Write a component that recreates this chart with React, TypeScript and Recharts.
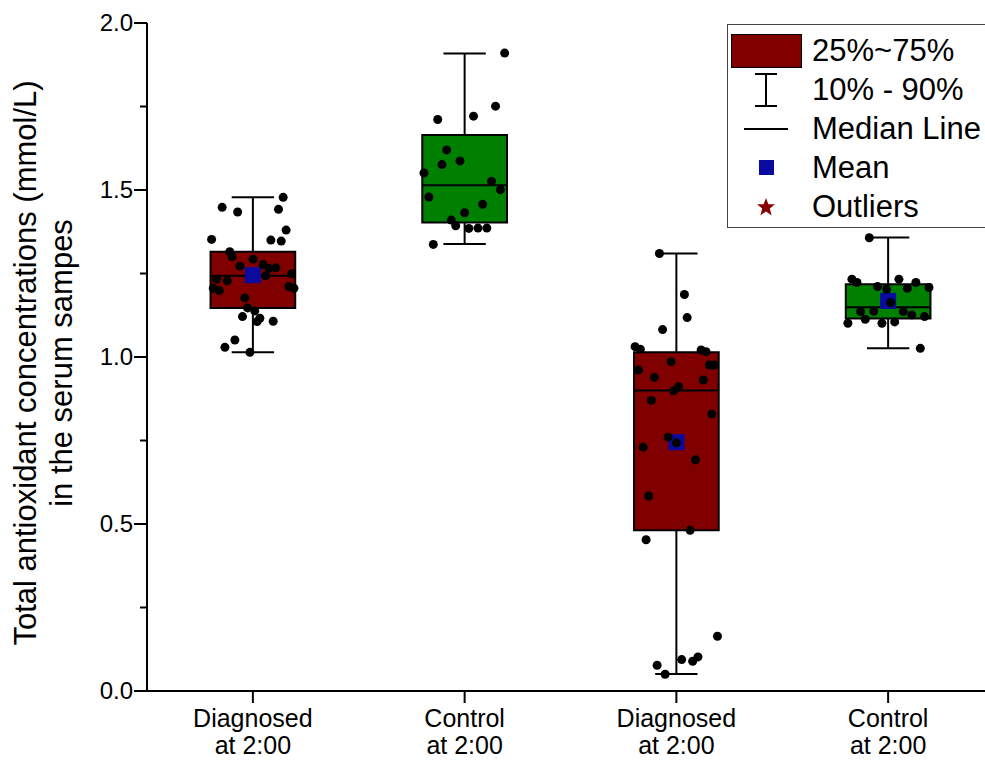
import React from "react"
import {
  ComposedChart,
  XAxis,
  YAxis,
  Scatter,
  ReferenceArea,
  ReferenceLine,
  Legend,
} from "recharts"

// category labels (two lines each)
const labelTop = ["Diagnosed", "Control", "Diagnosed", "Control"]
const labelBottom = ["at 2:00", "at 2:00", "at 2:00", "at 2:00"]
const boxColors = ["#800000", "#008000", "#800000", "#008000"]

// box statistics
const p10 = [1.014, 1.338, 0.051, 1.026]
const q1 = [1.147, 1.403, 0.481, 1.115]
const median = [1.243, 1.514, 0.9, 1.149]
const q3 = [1.315, 1.665, 1.014, 1.218]
const p90 = [1.478, 1.909, 1.31, 1.358]
const means: (number | null)[] = [1.245, null, 0.745, 1.168]

// raw points: [jitter offset from category centre, value]
const group1: [number, number][] = [
  [0.143, 1.478], [-0.145, 1.448], [-0.072, 1.434], [0.121, 1.442], [0.157, 1.38],
  [-0.195, 1.352], [0.085, 1.35], [0.134, 1.347], [-0.109, 1.315], [-0.098, 1.3],
  [0.001, 1.293], [-0.061, 1.272], [0.049, 1.277], [0.076, 1.265], [0.109, 1.267],
  [0.183, 1.249], [0.06, 1.243], [-0.171, 1.233], [-0.121, 1.228], [-0.187, 1.206],
  [-0.159, 1.199], [0.17, 1.211], [0.194, 1.206], [-0.038, 1.177], [-0.025, 1.147],
  [0.009, 1.138], [-0.049, 1.121], [0.033, 1.116], [0.02, 1.106], [0.096, 1.107],
  [-0.085, 1.051], [-0.132, 1.029], [-0.014, 1.014],
]
const group2: [number, number][] = [
  [0.189, 1.91], [0.146, 1.751], [-0.127, 1.711], [0.042, 1.721], [-0.085, 1.62],
  [-0.107, 1.576], [-0.022, 1.587], [-0.192, 1.551], [0.127, 1.526], [0.169, 1.501],
  [-0.169, 1.479], [0.085, 1.457], [0, 1.432], [-0.063, 1.41], [-0.042, 1.393],
  [0.02, 1.385], [0.063, 1.386], [0.105, 1.386], [-0.148, 1.337],
]
const group3: [number, number][] = [
  [-0.08, 1.31], [0.038, 1.187], [0.051, 1.118], [-0.065, 1.082], [-0.195, 1.031],
  [-0.17, 1.023], [0.117, 1.021], [0.14, 1.016], [-0.025, 0.986], [-0.179, 0.961],
  [0.156, 0.976], [0.179, 0.976], [-0.104, 0.939], [0.127, 0.931], [0.011, 0.911],
  [-0.013, 0.899], [-0.118, 0.87], [0.167, 0.829], [-0.039, 0.76], [0, 0.743],
  [-0.157, 0.73], [0.09, 0.692], [-0.131, 0.584], [0.065, 0.481], [-0.143, 0.453],
  [0.194, 0.164], [0.102, 0.102], [0.077, 0.089], [0.025, 0.094], [-0.091, 0.077],
  [-0.053, 0.05],
]
const group4: [number, number][] = [
  [-0.089, 1.357], [-0.171, 1.233], [-0.147, 1.223], [0.051, 1.233], [0.131, 1.223],
  [-0.05, 1.211], [-0.007, 1.203], [0.091, 1.206], [0.193, 1.208], [0.012, 1.163],
  [-0.13, 1.136], [-0.068, 1.137], [0.072, 1.136], [0.112, 1.126], [0.172, 1.121],
  [-0.108, 1.113], [-0.19, 1.101], [-0.029, 1.101], [0.031, 1.105], [0.152, 1.026],
]
const groups = [group1, group2, group3, group4]

const yTicks = [0, 0.25, 0.5, 0.75, 1, 1.25, 1.5, 1.75, 2]
const xDomain: [number, number] = [0.5, 4.5]
const BOX_HALF = 0.2
const CAP_HALF = 0.1
const FONT = "'Liberation Sans', Arial, sans-serif"

const points = groups.flatMap((g, i) => g.map(([dx, v]) => ({ x: i + 1 + dx, y: v })))
const meanData = means
  .map((m, i) => (m == null ? null : { x: i + 1, y: m }))
  .filter(Boolean) as { x: number; y: number }[]

const XTick = (props: any) => {
  const { x, y, payload } = props
  const i = Math.round(payload.value) - 1
  return (
    <text x={x} y={y} textAnchor="middle" fontFamily={FONT} fontSize={25} fill="#000">
      <tspan x={x} dy={24}>{labelTop[i]}</tspan>
      <tspan x={x} dy={27}>{labelBottom[i]}</tspan>
    </text>
  )
}

const YTick = (props: any) => {
  const { x, y, payload } = props
  const major = Math.abs(payload.value * 2 - Math.round(payload.value * 2)) < 1e-6
  return (
    <g>
      <line x1={x - (major ? 13 : 7)} x2={x} y1={y} y2={y} stroke="#000" strokeWidth={2} />
      {major && (
        <text x={x - 14} y={y + 8} textAnchor="end" fontFamily={FONT} fontSize={24} fill="#000">
          {payload.value.toFixed(1)}
        </text>
      )}
    </g>
  )
}

const YTitle = () => (
  <g fontFamily={FONT} fontSize={31} fill="#000" textAnchor="middle">
    <text transform="translate(36 363) rotate(-90)">Total antioxidant concentrations (mmol/L)</text>
    <text transform="translate(72 363) rotate(-90)">in the serum sampes</text>
  </g>
)

const MeanShape = (props: any) => (
  <rect x={props.cx - 8} y={props.cy - 8} width={16} height={16} fill="#0a0aa0" />
)
const DotShape = (props: any) => <circle cx={props.cx} cy={props.cy} r={4.5} fill="#000" />

const LegendBox = () => {
  const row: React.CSSProperties = { display: "flex", alignItems: "center", height: 39 }
  const icon: React.CSSProperties = { width: 76, flex: "none", display: "flex", justifyContent: "center", alignItems: "center" }
  const txt: React.CSSProperties = { paddingLeft: 8, fontSize: 31, fontFamily: FONT, whiteSpace: "nowrap", color: "#000" }
  return (
    <div
      style={{
        border: "1.5px solid #444",
        borderRight: "none",
        background: "#fff",
        height: 204,
        width: 320,
        boxSizing: "border-box",
        paddingTop: 6,
      }}
    >
      <div style={row}>
        <div style={icon}>
          <div style={{ width: 71, height: 34, background: "#800000", border: "1.5px solid #000", boxSizing: "border-box" }} />
        </div>
        <span style={txt}>25%~75%</span>
      </div>
      <div style={row}>
        <div style={icon}>
          <svg width={24} height={34}>
            <line x1={1} x2={23} y1={1} y2={1} stroke="#000" strokeWidth={2} />
            <line x1={12} x2={12} y1={1} y2={33} stroke="#000" strokeWidth={2} />
            <line x1={1} x2={23} y1={33} y2={33} stroke="#000" strokeWidth={2} />
          </svg>
        </div>
        <span style={txt}>10% - 90%</span>
      </div>
      <div style={row}>
        <div style={icon}>
          <svg width={44} height={4}>
            <line x1={0} x2={44} y1={2} y2={2} stroke="#000" strokeWidth={2} />
          </svg>
        </div>
        <span style={txt}>Median Line</span>
      </div>
      <div style={row}>
        <div style={icon}>
          <div style={{ width: 15, height: 15, background: "#0a0aa0" }} />
        </div>
        <span style={txt}>Mean</span>
      </div>
      <div style={row}>
        <div style={icon}>
          <svg width={20} height={20} viewBox="0 0 20 20">
            <polygon
              points="10,1 12.4,7.2 19,7.3 13.8,11.4 15.6,18.5 10,14.4 4.4,18.5 6.2,11.4 1,7.3 7.6,7.2"
              fill="#8b0000"
            />
          </svg>
        </div>
        <span style={txt}>Outliers</span>
      </div>
    </div>
  )
}

export default function App() {
  return (
    <div style={{ width: 985, height: 761, overflow: "hidden", background: "#fff", position: "relative" }}>
      <style>{"body{margin:0;overflow:hidden}"}</style>
      <ComposedChart
        width={1004}
        height={761}
        data={points}
        margin={{ top: 23, right: 10, bottom: 0, left: 0 }}
      >
        <XAxis
          dataKey="x"
          type="number"
          domain={xDomain}
          ticks={[1, 2, 3, 4]}
          interval={0}
          allowDataOverflow
          height={70}
          tickSize={12}
          tickMargin={0}
          tick={<XTick />}
          axisLine={{ stroke: "#000", strokeWidth: 2 }}
          tickLine={{ stroke: "#000", strokeWidth: 2 }}
        />
        <XAxis
          xAxisId="top"
          orientation="top"
          type="number"
          domain={xDomain}
          allowDataOverflow
          height={0}
          tick={false}
          tickLine={false}
          axisLine={{ stroke: "#000", strokeWidth: 2 }}
        />
        <YAxis
          dataKey="y"
          type="number"
          domain={[0, 2]}
          ticks={yTicks}
          interval={0}
          allowDataOverflow
          width={147}
          tickSize={0}
          tickMargin={0}
          tickLine={false}
          tick={<YTick />}
          axisLine={{ stroke: "#000", strokeWidth: 2 }}
          label={{ content: <YTitle /> }}
        />
        {q1.map((v, i) => (
          <ReferenceArea
            key={`box${i}`}
            x1={i + 1 - BOX_HALF}
            x2={i + 1 + BOX_HALF}
            y1={v}
            y2={q3[i]}
            fill={boxColors[i]}
            fillOpacity={1}
            stroke="#000"
            strokeWidth={2}
          />
        ))}
        {median.map((v, i) => (
          <ReferenceLine
            key={`med${i}`}
            segment={[{ x: i + 1 - BOX_HALF, y: v }, { x: i + 1 + BOX_HALF, y: v }]}
            stroke="#000"
            strokeWidth={2}
          />
        ))}
        {p90.map((v, i) => (
          <ReferenceLine
            key={`wt${i}`}
            segment={[{ x: i + 1, y: q3[i] }, { x: i + 1, y: v }]}
            stroke="#000"
            strokeWidth={2}
          />
        ))}
        {p10.map((v, i) => (
          <ReferenceLine
            key={`wb${i}`}
            segment={[{ x: i + 1, y: v }, { x: i + 1, y: q1[i] }]}
            stroke="#000"
            strokeWidth={2}
          />
        ))}
        {p90.map((v, i) => (
          <ReferenceLine
            key={`ct${i}`}
            segment={[{ x: i + 1 - CAP_HALF, y: v }, { x: i + 1 + CAP_HALF, y: v }]}
            stroke="#000"
            strokeWidth={2}
          />
        ))}
        {p10.map((v, i) => (
          <ReferenceLine
            key={`cb${i}`}
            segment={[{ x: i + 1 - CAP_HALF, y: v }, { x: i + 1 + CAP_HALF, y: v }]}
            stroke="#000"
            strokeWidth={2}
          />
        ))}
        <Scatter data={meanData} shape={MeanShape} isAnimationActive={false} />
        <Scatter data={points} shape={DotShape} isAnimationActive={false} />
        <Legend
          layout="vertical"
          align="center"
          verticalAlign="middle"
          content={<LegendBox />}
          wrapperStyle={{ left: 727, top: 24, width: 320, height: 204 }}
        />
      </ComposedChart>
    </div>
  )
}
